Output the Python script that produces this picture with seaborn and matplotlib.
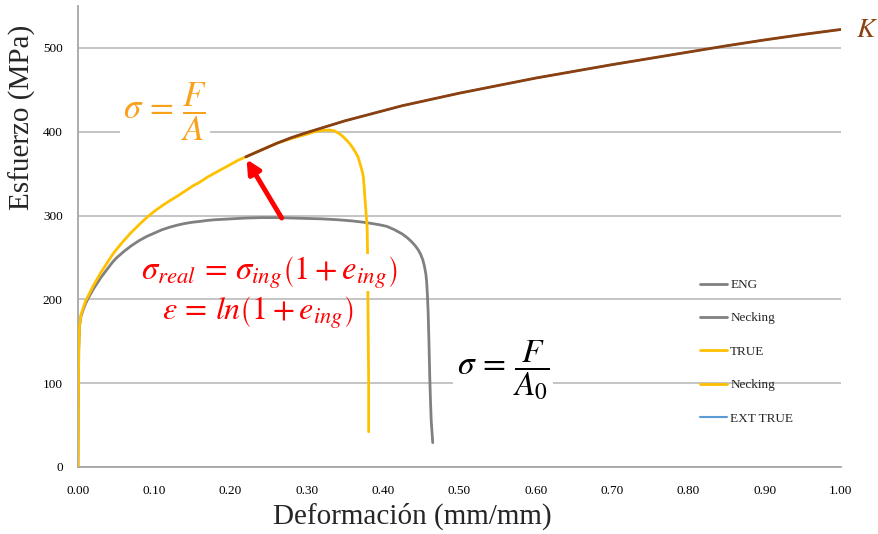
import matplotlib
matplotlib.use("Agg")
import matplotlib.pyplot as plt
import seaborn as sns
import pandas as pd

# Engineering curve up to the ultimate strength, then the necking branch
eng_strain = [0.0, 0.0005, 0.001, 0.002, 0.004, 0.007, 0.010, 0.015, 0.020, 0.025,
              0.030, 0.035, 0.040, 0.045, 0.050, 0.060, 0.070, 0.080, 0.090, 0.100,
              0.110, 0.120, 0.130, 0.140, 0.150, 0.160, 0.170, 0.180, 0.200, 0.220,
              0.240, 0.258]
eng_stress = [0, 80, 140, 168, 180, 188, 195, 204, 212, 219,
              226, 232, 238, 244, 249, 257, 264, 270, 275, 279,
              283, 286, 288.5, 290.5, 292, 293, 294.2, 295, 296, 297,
              297.5, 297.5]
eng_neck_strain = [0.258, 0.280, 0.300, 0.320, 0.340, 0.360, 0.374, 0.385, 0.395,
                   0.405, 0.415, 0.425, 0.431, 0.437, 0.442, 0.446, 0.449, 0.452,
                   0.454, 0.456, 0.457, 0.458, 0.459, 0.460, 0.461, 0.462, 0.463, 0.465]
eng_neck_stress = [297.5, 297, 296.5, 296, 295, 293.5, 292, 290.5, 289,
                   287, 283, 278, 274, 269, 264, 259, 254, 247,
                   240, 230, 221, 205, 184, 150, 110, 80, 55, 29]

# True stress / true strain curve, then its necking branch
true_strain = [0.0, 0.0005, 0.001, 0.002, 0.004, 0.007, 0.010, 0.015, 0.020, 0.025,
               0.030, 0.035, 0.040, 0.045, 0.050, 0.060, 0.070, 0.080, 0.090, 0.100,
               0.110, 0.120, 0.130, 0.140, 0.150, 0.160, 0.170, 0.180, 0.190, 0.200,
               0.210, 0.220, 0.240, 0.260, 0.280, 0.300, 0.310, 0.320, 0.330]
true_stress = [0, 80, 140, 168, 182, 190, 198, 207, 216, 224,
               232, 239, 246, 253, 259, 270, 280, 289, 297.5, 305,
               311.5, 317.5, 323, 329, 335, 340, 346, 351, 356, 361,
               366, 370, 378, 386, 392, 397, 400, 401.5, 402]
true_neck_strain = [0.330, 0.336, 0.342, 0.347, 0.352, 0.356, 0.360, 0.364, 0.367,
                    0.369, 0.371, 0.373, 0.374, 0.375, 0.376, 0.377, 0.378, 0.379,
                    0.3795, 0.380, 0.3805, 0.381, 0.381]
true_neck_stress = [402, 401, 398, 394.5, 390, 386, 381, 375, 370,
                    364, 358, 351, 346, 336, 322, 310, 298, 286,
                    259, 205, 150, 100, 42]

# Extrapolated true curve (Hollomon fit up to K)
ext_strain = [0.22, 0.24, 0.26, 0.28, 0.30, 0.325, 0.35, 0.375, 0.40, 0.425, 0.45,
              0.475, 0.50, 0.55, 0.60, 0.65, 0.70, 0.75, 0.80, 0.85, 0.90, 0.95, 1.00]
ext_stress = [370, 378, 386, 393, 399, 406, 413, 419, 425, 431, 436,
              441, 446, 455, 464, 472, 480, 487.5, 495, 502.5, 509.5, 516, 522]

x_ticks = [0.0, 0.1, 0.2, 0.3, 0.4, 0.5, 0.6, 0.7, 0.8, 0.9, 1.0]
y_ticks = [0, 100, 200, 300, 400, 500]

GRAY = "#808080"
YELLOW = "#FFC000"
BLUE = "#5B9BD5"
BROWN = "#8B4010"
ORANGE = "#F9A11B"
AXIS_GRAY = "#A6A6A6"

sns.set_style("white")
plt.rcParams["font.family"] = ["Liberation Serif", "DejaVu Serif"]
plt.rcParams["mathtext.fontset"] = "stix"
plt.rcParams["lines.solid_joinstyle"] = "round"

fig = plt.figure(figsize=(8.79, 5.34), dpi=100)
ax = fig.add_axes([0.0887, 0.1255, 0.868, 0.8633])

series = [
    ("ENG", eng_strain, eng_stress, GRAY, 2.0),
    ("Necking", eng_neck_strain, eng_neck_stress, GRAY, 2.0),
    ("TRUE", true_strain, true_stress, YELLOW, 2.0),
    ("Necking", true_neck_strain, true_neck_stress, YELLOW, 2.0),
    ("EXT TRUE", ext_strain, ext_stress, BLUE, 1.5),
]
for name, xs, ys, col, lw in series:
    df = pd.DataFrame({"strain": xs, "stress": ys})
    sns.lineplot(data=df, x="strain", y="stress", sort=False, estimator=None,
                 color=col, linewidth=lw, label=name, ax=ax, zorder=3)

# brown extension drawn over the blue one
df_ext = pd.DataFrame({"strain": ext_strain, "stress": ext_stress})
sns.lineplot(data=df_ext, x="strain", y="stress", sort=False, estimator=None,
             color=BROWN, linewidth=2.0, ax=ax, zorder=4, legend=False)

ax.set_xlim(0, 1.0)
ax.set_ylim(0, 550)
ax.set_xticks(x_ticks)
ax.set_xticklabels([f"{t:.2f}" for t in x_ticks])
ax.set_yticks(y_ticks)
ax.tick_params(axis="both", labelsize=9.5, colors="black", length=5, width=1,
               direction="out", color=AXIS_GRAY)
ax.tick_params(axis="x", pad=8)
ax.tick_params(axis="y", pad=6)
ax.yaxis.grid(True, color="#BFBFBF", linewidth=1.3, zorder=0)
ax.xaxis.grid(False)
ax.set_axisbelow(True)
for side in ["top", "right"]:
    ax.spines[side].set_visible(False)
for side in ["left", "bottom"]:
    ax.spines[side].set_color(AXIS_GRAY)
    ax.spines[side].set_linewidth(1.3)

ax.set_xlabel("Deformación (mm/mm)", fontsize=21)
ax.xaxis.label.set_va("center")
ax.xaxis.set_label_coords(0.438, -0.108)
ax.set_ylabel("Esfuerzo (MPa)", fontsize=21)
ax.yaxis.label.set_va("center")
ax.yaxis.set_label_coords(-0.073, 0.759)

leg = ax.legend(loc="upper left", bbox_to_anchor=(0.815, 0.408), frameon=False,
                fontsize=9.5, handlelength=2.1, handletextpad=0.2,
                labelspacing=1.6, borderpad=0, borderaxespad=0)

box = dict(facecolor="white", edgecolor="none", pad=2.5)
ax.text(0.114, 424, r"$\sigma\,=\,\dfrac{F}{A}$", color=ORANGE, fontsize=25,
        ha="center", va="center", bbox=box, zorder=6)
ax.text(0.557, 116, r"$\sigma\,=\,\dfrac{F}{A_0}$", color="black", fontsize=24,
        ha="center", va="center", bbox=box, zorder=6)
ax.text(0.251, 232, r"$\sigma_{real}\,=\,\sigma_{ing}\left(1+e_{ing}\right)$", color="red",
        fontsize=23.5, ha="center", va="center", bbox=dict(facecolor="white",
        edgecolor="none", pad=0.5), zorder=6)
ax.text(0.236, 184, r"$\varepsilon\,=\,ln\left(1+e_{ing}\right)$", color="red",
        fontsize=23, ha="center", va="center", zorder=6)
ax.text(1.02, 521, r"$K$", color=BROWN, fontsize=20, ha="left", va="center",
        clip_on=False, zorder=6)

ax.annotate("", xy=(0.221, 367), xytext=(0.267, 297),
            arrowprops=dict(arrowstyle="-|>,head_length=0.8,head_width=0.4",
                            color="red", linewidth=3.5, shrinkA=0, shrinkB=0),
            zorder=7)

fig.savefig("out.png", dpi=100)
